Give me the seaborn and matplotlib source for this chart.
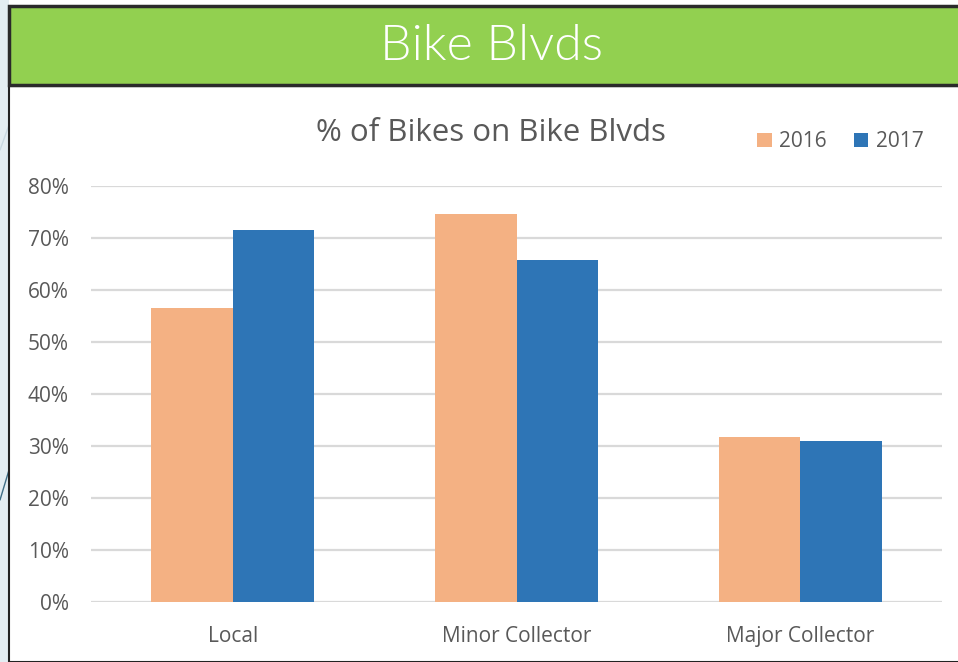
import pandas as pd
import numpy as np
import matplotlib.pyplot as plt
import matplotlib.patches as patches
from matplotlib.ticker import PercentFormatter
import seaborn as sns

# values
categories = ['Local', 'Minor Collector', 'Major Collector']
years = ['2016', '2017']
pct_2016 = [0.565, 0.746, 0.317]
pct_2017 = [0.716, 0.658, 0.310]

df = pd.DataFrame({
    'Category': categories * 2,
    'Year': [years[0]] * 3 + [years[1]] * 3,
    'Share': pct_2016 + pct_2017,
})

sns.set_theme(style='white')
plt.rcParams['font.family'] = ['Open Sans', 'DejaVu Sans']

fig = plt.figure(figsize=(9.58, 6.62), dpi=100)
W, H = 958, 662

# slide background strip on the left with a thin decorative line
fig.patches.append(patches.Rectangle((0, 0), 9 / W, 1, transform=fig.transFigure,
                                     facecolor='#e3edf2', edgecolor='none', zorder=0))
fig.lines.append(plt.Line2D([0, 9 / W], [1 - 500 / H, 1 - 470 / H], transform=fig.transFigure,
                            color='#3f6e86', lw=1, zorder=1))
fig.lines.append(plt.Line2D([0, 9 / W], [1 - 150 / H, 1 - 125 / H], transform=fig.transFigure,
                            color='#c9d9e2', lw=1, zorder=1))

# white chart panel with dark left border
fig.patches.append(patches.Rectangle((9 / W, 0), 1, 1 - 86 / H, transform=fig.transFigure,
                                     facecolor='white', edgecolor='#222222', lw=1.5, zorder=1))

# green header bar
fig.patches.append(patches.Rectangle((9 / W, 1 - 85 / H), 1, 79 / H, transform=fig.transFigure,
                                     facecolor='#92d050', edgecolor='#2a2a2a', lw=2.5, zorder=2))
fig.text(491 / W, 1 - 46 / H, 'Bike Blvds', color='white', fontsize=36, family='Lato',
         weight=300, ha='center', va='center', zorder=3)

ax = fig.add_axes([91 / W, 1 - 602 / H, (942 - 91) / W, (602 - 186) / H])
ax.set_zorder(5)
ax.set_facecolor('none')
sns.barplot(data=df, x='Category', y='Share', hue='Year', order=categories,
            hue_order=years, palette=['#f4b183', '#2e75b6'], width=0.575, gap=0,
            saturation=1, linewidth=0, legend=True, ax=ax, zorder=3)

ax.set_ylim(0, 0.8)
ax.set_xlim(-0.5, 2.5)
ax.set_yticks(np.arange(0, 0.81, 0.1))
ax.yaxis.set_major_formatter(PercentFormatter(1.0, decimals=0))
ax.grid(axis='y', color='#d9d9d9', lw=1.6, zorder=0)
ax.set_axisbelow(True)
for s in ax.spines.values():
    s.set_visible(False)
ax.tick_params(axis='both', length=0, labelsize=15, labelcolor='#595959')
ax.tick_params(axis='y', pad=16)
ax.tick_params(axis='x', pad=17)
ax.set_xlabel('')
ax.set_ylabel('')

fig.text(491 / W, 1 - 133 / H, '% of Bikes on Bike Blvds', color='#595959', fontsize=22.5,
         ha='center', va='center', zorder=6)

ax.legend(loc='center right', bbox_to_anchor=(0.978, 1.106), ncol=2, frameon=False,
          fontsize=15, labelcolor='#595959', handlelength=0.7, handleheight=0.7,
          handletextpad=0.35, columnspacing=1.3, borderpad=0, borderaxespad=0)

fig.savefig('out.png', dpi=100)
